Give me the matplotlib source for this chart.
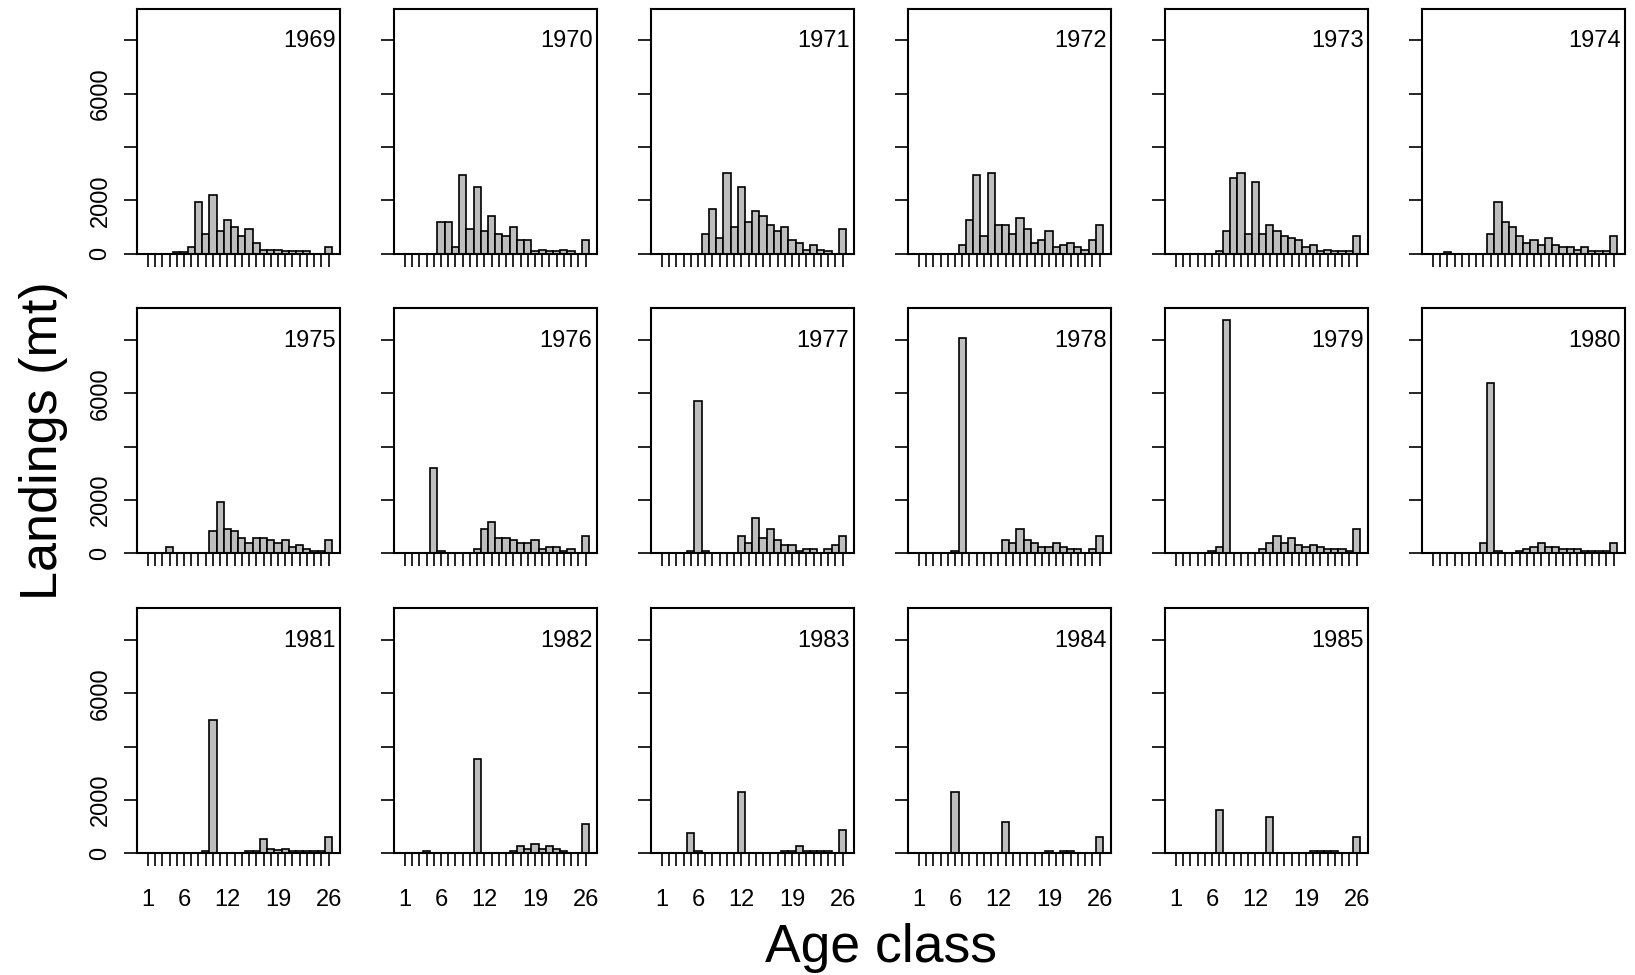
import matplotlib.pyplot as plt

plt.rcParams['font.family'] = ['Liberation Sans', 'DejaVu Sans']

# age classes and survey years
ages = list(range(1, 27))
years = list(range(1969, 1986))

# landings (mt) by age class, one list per year
landings_1969 = [0, 0, 0, 0, 80, 80, 250, 1940, 750, 2190, 840, 1260, 1000,
                 660, 925, 410, 160, 160, 160, 90, 90, 90, 90, 0, 0, 250]
landings_1970 = [0, 0, 0, 0, 0, 1175, 1175, 250, 2950, 925, 2510, 840, 1425,
                 750, 660, 1000, 500, 500, 90, 160, 90, 90, 160, 90, 0, 500]
landings_1971 = [0, 0, 0, 0, 0, 0, 750, 1690, 590, 3040, 1010, 2510, 1175,
                 1600, 1425, 1090, 840, 1000, 500, 410, 160, 325, 160, 90, 0, 925]
landings_1972 = [0, 0, 0, 0, 0, 0, 325, 1260, 2950, 660, 3040, 1090, 1090,
                 750, 1350, 925, 410, 500, 840, 250, 325, 410, 250, 160, 500, 1090]
landings_1973 = [0, 0, 0, 0, 0, 0, 90, 840, 2850, 3040, 750, 2690, 750,
                 1090, 840, 660, 590, 500, 250, 325, 90, 160, 90, 90, 90, 660]
landings_1974 = [0, 0, 60, 0, 0, 0, 0, 0, 750, 1940, 1175, 1000, 660,
                 410, 500, 325, 590, 325, 250, 250, 160, 250, 90, 90, 90, 660]
landings_1975 = [0, 0, 0, 225, 0, 0, 0, 0, 0, 840, 1940, 910, 840,
                 590, 400, 590, 590, 500, 400, 500, 225, 310, 160, 100, 100, 500]
landings_1976 = [0, 0, 0, 0, 3190, 75, 0, 0, 0, 0, 160, 910, 1175,
                 590, 590, 500, 400, 400, 500, 160, 250, 250, 75, 160, 0, 660]
landings_1977 = [0, 0, 0, 0, 75, 5725, 75, 0, 0, 0, 0, 660, 400,
                 1340, 590, 910, 500, 310, 310, 75, 160, 160, 0, 160, 310, 660]
landings_1978 = [0, 0, 0, 0, 0, 75, 8075, 0, 0, 0, 0, 0, 500,
                 400, 910, 500, 400, 250, 250, 400, 250, 160, 160, 0, 160, 660]
landings_1979 = [0, 0, 0, 0, 0, 75, 250, 8750, 0, 0, 0, 0, 160,
                 400, 660, 400, 590, 310, 250, 310, 250, 160, 160, 160, 75, 910]
landings_1980 = [0, 0, 0, 0, 0, 0, 0, 400, 6400, 75, 0, 0, 75,
                 160, 250, 400, 250, 250, 160, 160, 160, 75, 75, 75, 75, 400]
landings_1981 = [0, 0, 0, 0, 0, 0, 0, 0, 75, 5000, 0, 0, 0,
                 0, 75, 75, 525, 175, 140, 175, 75, 75, 75, 75, 75, 610]
landings_1982 = [0, 0, 0, 75, 0, 0, 0, 0, 0, 0, 3550, 0, 0,
                 0, 0, 75, 260, 175, 350, 175, 260, 175, 75, 0, 0, 1100]
landings_1983 = [0, 0, 0, 0, 775, 75, 0, 0, 0, 0, 0, 2290, 0,
                 0, 0, 0, 0, 75, 75, 260, 75, 75, 75, 75, 0, 860]
landings_1984 = [0, 0, 0, 0, 0, 2290, 0, 0, 0, 0, 0, 0, 1190,
                 0, 0, 0, 0, 0, 75, 0, 75, 75, 0, 0, 0, 610]
landings_1985 = [0, 0, 0, 0, 0, 0, 1625, 0, 0, 0, 0, 0, 0,
                 1375, 0, 0, 0, 0, 0, 75, 75, 75, 75, 0, 0, 610]

landings = [landings_1969, landings_1970, landings_1971, landings_1972,
            landings_1973, landings_1974, landings_1975, landings_1976,
            landings_1977, landings_1978, landings_1979, landings_1980,
            landings_1981, landings_1982, landings_1983, landings_1984,
            landings_1985]

x_labels = [str(a) if a in (1, 6, 12, 19, 26) else '' for a in ages]
y_ticks = [0, 2000, 4000, 6000, 8000]
y_labels = ['0', '2000', '', '6000', '']

W, H = 1635, 975
fig = plt.figure(figsize=(W / 100, H / 100), dpi=100)

ymax = 1.05 * max(max(v) for v in landings)
box_w, box_h = 203, 245
lefts = [136.7 + 257 * i for i in range(6)]
bottoms = [253.8, 553.3, 853.3]   # pixel row of each panel's bottom edge

for k, (year, vals) in enumerate(zip(years, landings)):
    r, c = divmod(k, 6)
    ax = fig.add_axes([lefts[c] / W, 1 - bottoms[r] / H, box_w / W, box_h / H])
    ax.bar(ages, vals, width=1, color='#bebebe', edgecolor='black', linewidth=1.2)
    ax.set_xlim(0.5 - 1.04, 26.5 + 1.04)
    ax.set_ylim(0, ymax)
    for s in ax.spines.values():
        s.set_linewidth(1.5)

    ax.set_xticks(ages)
    ax.set_yticks(y_ticks)
    ax.tick_params(direction='out', length=9.6, width=1.2, labelsize=17)
    ax.tick_params(axis='x', pad=16)
    ax.tick_params(axis='y', pad=8.5, labelrotation=90)

    if r == 2:
        ax.set_xticklabels(x_labels)
    else:
        ax.set_xticklabels([])
    if c == 0:
        ax.set_yticklabels(y_labels)
        for t in ax.get_yticklabels():
            t.set_va('center')
    else:
        ax.set_yticklabels([])

    ax.text(1 - 4.3 / box_w, 7750, str(year), transform=ax.get_yaxis_transform(),
            ha='right', va='baseline', fontsize=17)

fig.text(880.8 / W, (H - 961.7) / H, 'Age class', ha='center', va='baseline',
         fontsize=38.5)
fig.text(57 / W, 0.548, 'Landings (mt)', rotation=90, rotation_mode='anchor',
         ha='center', va='baseline', fontsize=37.5)

fig.savefig('out.png', dpi=100)
